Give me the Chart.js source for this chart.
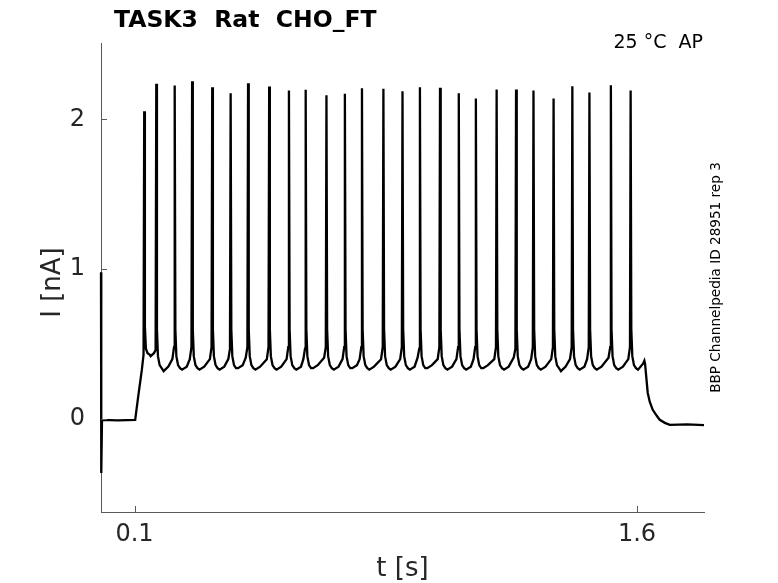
<!DOCTYPE html>
<html>
<head>
<meta charset="utf-8">
<script src="https://cdn.jsdelivr.net/npm/chart.js@4/dist/chart.umd.min.js"></script>
<style>
  html, body { margin: 0; padding: 0; background: #fff; }
  #wrap { width: 778px; height: 583px; position: relative; }
</style>
</head>
<body>
<div id="wrap"><canvas id="grafico"></canvas></div>
<script>
// tick labels
const xTicks = [0.1, 1.6];
const yTicks = [0, 1, 2];

// capacitive transient at t = 0 and the holding baseline
const startT = [0, 0.0008, 0.003, 0.05, 0.102, 0.111];
const startI = [0.98, -0.36, -0.005, -0.008, -0.005, 0.15];

// spikes: time, peak, trough after, value ~7 ms and ~2 ms before
const spikeT = [0.129, 0.165, 0.220, 0.272, 0.332, 0.387, 0.439, 0.502, 0.561, 0.611, 0.673, 0.728, 0.779, 0.843,
                0.900, 0.952, 1.012, 1.068, 1.119, 1.181, 1.239, 1.291, 1.351, 1.407, 1.458, 1.522, 1.581];
const spikeI = [2.055, 2.238, 2.226, 2.255, 2.215, 2.175, 2.242, 2.220, 2.193, 2.198, 2.162, 2.171, 2.208, 2.204,
                2.188, 2.215, 2.211, 2.175, 2.140, 2.200, 2.200, 2.193, 2.140, 2.222, 2.180, 2.228, 2.193];
const troughT = [0.148, 0.187, 0.242, 0.294, 0.354, 0.409, 0.461, 0.524, 0.583, 0.633, 0.695, 0.750, 0.801, 0.865,
                 0.922, 0.974, 1.034, 1.090, 1.141, 1.203, 1.261, 1.313, 1.373, 1.429, 1.480, 1.544, 1.603];
const troughI = [0.42, 0.32, 0.33, 0.33, 0.33, 0.34, 0.33, 0.33, 0.33, 0.34, 0.33, 0.34, 0.33, 0.33,
                 0.33, 0.34, 0.33, 0.33, 0.34, 0.33, 0.33, 0.33, 0.32, 0.33, 0.33, 0.33, 0.33];
const midI = [0.43, 0.35, 0.35, 0.35, 0.35, 0.36, 0.35, 0.35, 0.35, 0.36, 0.35, 0.36, 0.35, 0.35,
              0.35, 0.36, 0.35, 0.35, 0.36, 0.35, 0.35, 0.35, 0.35, 0.35, 0.35, 0.35, 0.36];
const lateI = [0.33, 0.44, 0.40, 0.40, 0.40, 0.40, 0.41, 0.40, 0.40, 0.40, 0.41, 0.40, 0.40, 0.40,
               0.40, 0.41, 0.40, 0.40, 0.40, 0.40, 0.41, 0.40, 0.40, 0.40, 0.40, 0.41, 0.40];
const preI = [0.43, 0.46, 0.48, 0.48, 0.48, 0.47, 0.48, 0.48, 0.48, 0.47, 0.48, 0.48, 0.48, 0.48,
              0.48, 0.47, 0.48, 0.48, 0.48, 0.48, 0.47, 0.48, 0.48, 0.48, 0.48, 0.48, 0.48];
// repolarisation just after each peak (the first spike settles on a plateau)
const fallDt = [0.002, 0.005, 0.010, 0.016];
const fallI = [0.60, 0.42, 0.36, 0.34];
const fallFirstI = [0.62, 0.47, 0.44, 0.43];

// end of the step and return to baseline
const endT = [1.618, 1.622, 1.624, 1.632, 1.638, 1.647, 1.659, 1.668, 1.683, 1.698, 1.75, 1.80];
const endI = [0.37, 0.39, 0.37, 0.176, 0.116, 0.062, 0.022, -0.005, -0.025, -0.038, -0.035, -0.04];

function montaTraco() {
  const pts = [];
  startT.forEach((t, i) => pts.push({ x: t, y: startI[i] }));
  spikeT.forEach((t, i) => {
    pts.push({ x: t - 0.007, y: lateI[i] });
    pts.push({ x: t - 0.002, y: preI[i] });
    pts.push({ x: t, y: spikeI[i] });
    const queda = i === 0 ? fallFirstI : fallI;
    fallDt.forEach((d, k) => pts.push({ x: t + d, y: queda[k] }));
    pts.push({ x: troughT[i], y: troughI[i] });
    const proximo = i + 1 < spikeT.length ? spikeT[i + 1] : endT[0];
    if (troughT[i] + 0.014 < proximo - 0.009) {
      pts.push({ x: troughT[i] + 0.014, y: midI[i] });
    }
  });
  endT.forEach((t, i) => pts.push({ x: t, y: endI[i] }));
  return pts;
}

const fonte = "'DejaVu Sans', sans-serif";
const corEixo = "#595959";
const corTexto = "#262626";

const textos = {
  id: "textos",
  afterDraw(chart) {
    const ctx = chart.ctx;
    const { x, y } = chart.scales;
    ctx.save();
    // inward tick marks
    ctx.strokeStyle = corEixo;
    ctx.lineWidth = 1;
    ctx.beginPath();
    xTicks.forEach(v => {
      const px = Math.round(x.getPixelForValue(v)) + 0.5;
      ctx.moveTo(px, y.bottom);
      ctx.lineTo(px, y.bottom - 6);
    });
    yTicks.forEach(v => {
      const py = Math.round(y.getPixelForValue(v)) + 0.5;
      ctx.moveTo(x.left, py);
      ctx.lineTo(x.left + 6, py);
    });
    ctx.stroke();

    ctx.fillStyle = "#000";
    ctx.textBaseline = "alphabetic";
    ctx.textAlign = "left";
    ctx.font = "bold 23.5px " + fonte;
    ctx.fillText("TASK3  Rat  CHO_FT", 114, 27);

    ctx.font = "19px " + fonte;
    ctx.textAlign = "right";
    ctx.fillText("25 °C  AP", 703, 47.5);

    ctx.fillStyle = corTexto;
    ctx.font = "26px " + fonte;
    ctx.textAlign = "center";
    ctx.fillText("t [s]", (x.left + x.right) / 2, 576);

    ctx.save();
    ctx.translate(59.5, 282.5);
    ctx.rotate(-Math.PI / 2);
    ctx.fillText("I [nA]", 0, 0);
    ctx.restore();

    ctx.fillStyle = "#000";
    ctx.save();
    ctx.translate(720, 277.5);
    ctx.rotate(-Math.PI / 2);
    ctx.font = "13.6px " + fonte;
    ctx.fillText("BBP Channelpedia ID 28951 rep 3", 0, 0);
    ctx.restore();

    ctx.restore();
  }
};

const grafico = new Chart(document.getElementById("grafico"), {
  type: "line",
  data: {
    datasets: [
      {
        label: "I",
        data: montaTraco(),
        borderColor: "#000",
        borderWidth: 2.3,
        pointRadius: 0,
        tension: 0,
        clip: false,
      },
    ],
  },
  options: {
    responsive: true,
    maintainAspectRatio: false,
    animation: false,
    events: [],
    layout: { padding: { left: 0, top: 43, right: 74, bottom: 0 } },
    plugins: { legend: { display: false }, tooltip: { enabled: false } },
    scales: {
      x: {
        type: "linear",
        min: 0,
        max: 1.8,
        afterFit: s => { s.height = 71; },
        afterBuildTicks: s => { s.ticks = xTicks.map(v => ({ value: v })); },
        grid: { display: true, drawOnChartArea: false, drawTicks: false },
        border: { display: true, color: corEixo, width: 1 },
        ticks: {
          padding: 8,
          color: corTexto,
          font: { family: fonte, size: 24 },
          maxRotation: 0,
          callback: v => String(v),
        },
      },
      y: {
        type: "linear",
        min: -0.62,
        max: 2.51,
        afterFit: s => { s.width = 101; },
        afterBuildTicks: s => { s.ticks = yTicks.map(v => ({ value: v })); },
        grid: { display: true, drawOnChartArea: false, drawTicks: false },
        border: { display: true, color: corEixo, width: 1 },
        ticks: {
          padding: 16,
          color: corTexto,
          font: { family: fonte, size: 24 },
          callback: v => String(v),
        },
      },
    },
  },
  plugins: [textos],
});
</script>
</body>
</html>
